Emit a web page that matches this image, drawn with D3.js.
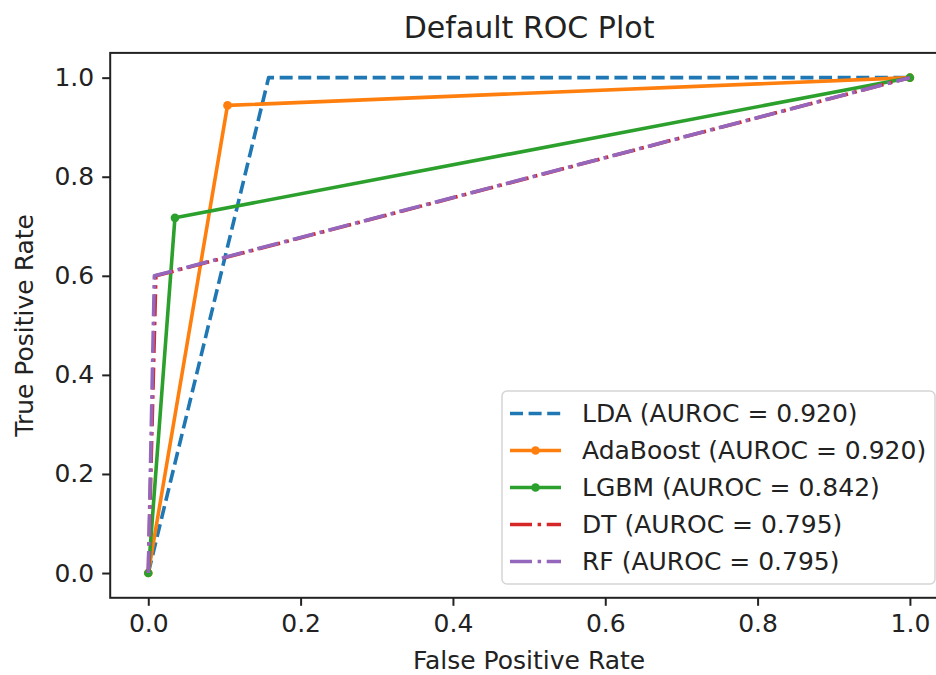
<!DOCTYPE html>
<html>
<head>
<meta charset="utf-8">
<script src="https://cdn.jsdelivr.net/npm/d3@7"></script>
<style>
  html, body { margin: 0; padding: 0; background: #fff; }
  svg { display: block; font-family: "DejaVu Sans", sans-serif; }
</style>
</head>
<body>
<svg id="chart" width="936" height="675"></svg>
<script>
// ROC curves, one array of points per model
const modelNames = ['LDA', 'AdaBoost', 'LGBM', 'DT', 'RF'];
const aurocValues = ['0.920', '0.920', '0.842', '0.795', '0.795'];
const ldaPoints = [[0, 0], [0.158, 1.0], [1, 1]];
const adaPoints = [[0, 0], [0.104, 0.944], [1, 1]];
const lgbmPoints = [[0, 0], [0.035, 0.717], [1, 1]];
const dtPoints = [[0, 0], [0.01, 0.6], [1, 1]];
const rfPoints = [[0, 0], [0.008, 0.6], [1, 1]];
const tickValues = [0, 0.2, 0.4, 0.6, 0.8, 1.0];

const series = [
  { points: ldaPoints, color: '#1f77b4', dash: '13,5.6', marker: false },
  { points: adaPoints, color: '#ff7f0e', dash: null, marker: true },
  { points: lgbmPoints, color: '#2ca02c', dash: null, marker: true },
  { points: dtPoints, color: '#d62728', dash: '22,5.6,3.5,5.6', marker: false },
  { points: rfPoints, color: '#9467bd', dash: '22,5.6,3.5,5.6', marker: false },
].map((s, i) => ({ ...s, label: `${modelNames[i]} (AUROC = ${aurocValues[i]})` }));

const svg = d3.select('#chart');
const plot = { left: 110.2, right: 948, top: 52.9, bottom: 597.8 };

const x = d3.scaleLinear().domain([-0.05, 1.05]).range([plot.left, plot.right]);
const y = d3.scaleLinear().domain([-0.05, 1.05]).range([plot.bottom, plot.top]);

svg.append('defs').append('clipPath').attr('id', 'clip')
  .append('rect')
  .attr('x', plot.left).attr('y', plot.top)
  .attr('width', plot.right - plot.left).attr('height', plot.bottom - plot.top);

// curves
const line = d3.line().x((d) => x(d[0])).y((d) => y(d[1]));
const curves = svg.append('g').attr('clip-path', 'url(#clip)');
series.forEach((s) => {
  curves.append('path')
    .datum(s.points)
    .attr('d', line)
    .attr('fill', 'none')
    .attr('stroke', s.color)
    .attr('stroke-width', 3.6)
    .attr('stroke-linejoin', 'round')
    .attr('stroke-dasharray', s.dash);
  if (s.marker) {
    curves.selectAll(null)
      .data(s.points)
      .join('circle')
      .attr('cx', (d) => x(d[0]))
      .attr('cy', (d) => y(d[1]))
      .attr('r', 4.3)
      .attr('fill', s.color);
  }
});

// axes
const fontSize = 25;
const xAxis = d3.axisBottom(x).tickValues(tickValues).tickFormat(d3.format('.1f'))
  .tickSize(8).tickPadding(8);
const yAxis = d3.axisLeft(y).tickValues(tickValues).tickFormat(d3.format('.1f'))
  .tickSize(8).tickPadding(8);

svg.append('g')
  .attr('transform', `translate(0,${plot.bottom})`)
  .call(xAxis)
  .call((g) => g.select('.domain').remove());
svg.append('g')
  .attr('transform', `translate(${plot.left},0)`)
  .call(yAxis)
  .call((g) => g.select('.domain').remove());

svg.selectAll('.tick line').attr('stroke', '#222').attr('stroke-width', 2);
svg.selectAll('.tick text')
  .attr('fill', '#222')
  .style('font-size', `${fontSize}px`)
  .style('font-family', '"DejaVu Sans", sans-serif');

// frame
svg.append('rect')
  .attr('x', plot.left).attr('y', plot.top)
  .attr('width', plot.right - plot.left).attr('height', plot.bottom - plot.top)
  .attr('fill', 'none')
  .attr('stroke', '#222')
  .attr('stroke-width', 2);

// labels
svg.append('text')
  .attr('x', (plot.left + plot.right) / 2)
  .attr('y', 38)
  .attr('text-anchor', 'middle')
  .attr('fill', '#222')
  .style('font-size', '30px')
  .text('Default ROC Plot');

svg.append('text')
  .attr('x', (plot.left + plot.right) / 2)
  .attr('y', 669)
  .attr('text-anchor', 'middle')
  .attr('fill', '#222')
  .style('font-size', `${fontSize}px`)
  .text('False Positive Rate');

svg.append('text')
  .attr('transform', `translate(33,${(plot.top + plot.bottom) / 2}) rotate(-90)`)
  .attr('text-anchor', 'middle')
  .attr('fill', '#222')
  .style('font-size', `${fontSize}px`)
  .text('True Positive Rate');

// legend
const legend = svg.append('g').attr('transform', 'translate(502,391)');
legend.append('rect')
  .attr('width', 433).attr('height', 193)
  .attr('rx', 5)
  .attr('fill', '#fff')
  .attr('fill-opacity', 0.8)
  .attr('stroke', '#d5d5d5')
  .attr('stroke-width', 1.5);

const rows = legend.selectAll('.legend-row')
  .data(series)
  .join('g')
  .attr('class', 'legend-row')
  .attr('transform', (_, i) => `translate(0,${22.5 + i * 37})`);

rows.append('line')
  .attr('x1', 8).attr('x2', 59)
  .attr('stroke', (d) => d.color)
  .attr('stroke-width', 3.6)
  .attr('stroke-dasharray', (d) => d.dash);
rows.filter((d) => d.marker)
  .append('circle')
  .attr('cx', 33.5)
  .attr('r', 4.3)
  .attr('fill', (d) => d.color);
rows.append('text')
  .attr('x', 80)
  .attr('dy', '0.35em')
  .attr('fill', '#222')
  .style('font-size', `${fontSize}px`)
  .text((d) => d.label);
</script>
</body>
</html>
